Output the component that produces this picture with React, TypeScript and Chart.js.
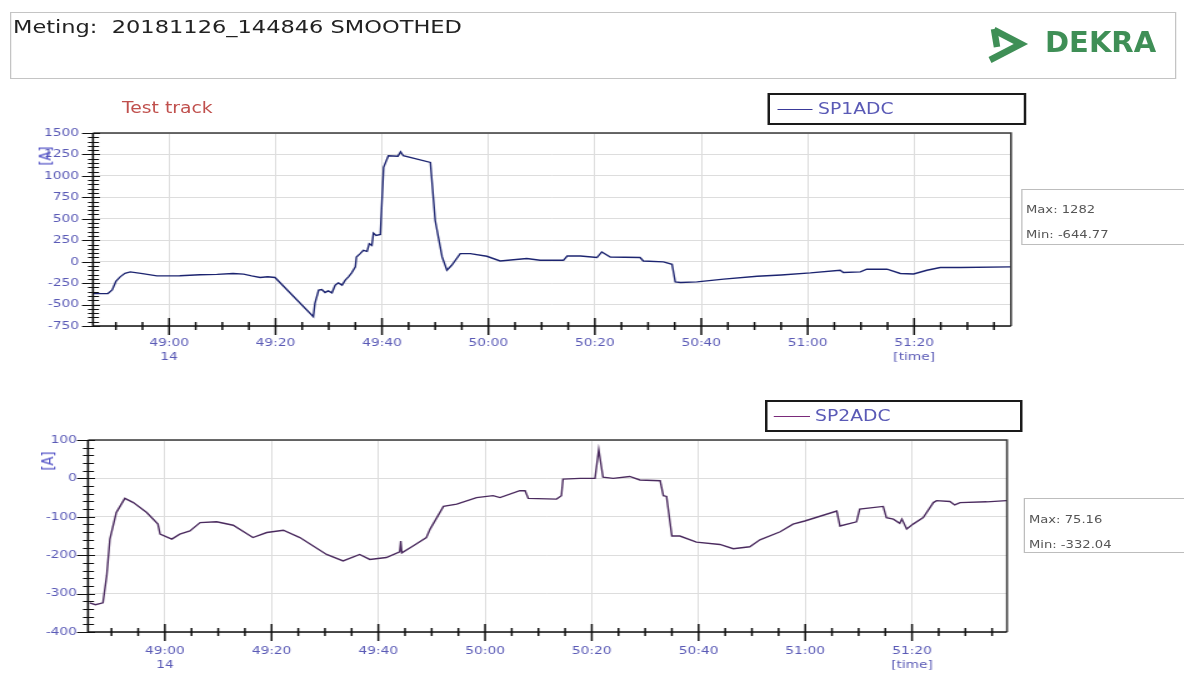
import React, { useEffect, useRef } from 'react';
import { Chart, registerables } from 'chart.js';

Chart.register(...registerables);

// ---------------- data ----------------
// time axis: seconds after 14:48:00
const xMajorValues = [60, 80, 100, 120, 140, 160, 180, 200];
const xMajorLabels = ['49:00', '49:20', '49:40', '50:00', '50:20', '50:40', '51:00', '51:20'];
const xSubLabels = ['14', '', '', '', '', '', '', '[time]'];

const sp1YTicks = [-750, -500, -250, 0, 250, 500, 750, 1000, 1250, 1500];
const sp2YTicks = [-400, -300, -200, -100, 0, 100];

const sp1Time = [
  45.7, 48.5, 49.3, 50.0, 50.8, 51.7, 52.7, 55.0, 57.7, 62.0, 65.8, 69.0, 72.0, 74.0, 75.5, 77.1, 78.5, 79.9,
  87.1, 87.4, 88.1, 88.7, 89.3, 89.9, 90.6, 91.2, 91.8, 92.5, 93.1, 93.7, 94.3, 95.0, 95.2, 95.9, 96.5, 97.2,
  97.6, 98.1, 98.4, 98.9, 99.7, 100.0, 100.3, 101.2, 103.0, 103.5, 104.0, 109.1, 110.0, 111.3, 112.2, 113.1,
  114.7, 116.6, 119.7, 122.2, 127.2, 129.7, 134.1, 134.8, 137.3, 140.4, 141.3, 142.9, 148.5, 149.1, 152.9,
  154.5, 155.1, 156.1, 159.2, 164.2, 170.5, 175.0, 180.5, 186.1, 186.7, 189.9, 191.1, 194.9, 197.4, 199.9,
  202.4, 204.9, 208.7, 218.1,
];
const sp1Value = [
  -372, -372, -330, -230, -177, -135, -119, -140, -166, -165, -152, -148, -138, -145, -165, -184, -176, -184,
  -641, -486, -332, -324, -359, -340, -363, -274, -247, -274, -216, -177, -131, -61, 55, 94, 132, 120,
  210, 190, 333, 306, 318, 712, 1099, 1234, 1230, 1282, 1235, 1157, 480, 55, -100, -42,
  94, 94, 63, 8, 36, 16, 16, 66, 66, 48, 113, 55, 48, 8, -3,
  -30, -235, -243, -235, -204, -170, -155, -131, -100, -127, -119, -88, -88, -138, -143,
  -100, -68, -68, -61,
];

const sp2Time = [
  45.9, 47.0, 48.4, 49.1, 49.7, 50.9, 52.5, 54.1, 56.6, 58.7, 59.1, 61.3, 62.8, 64.7, 66.6, 69.7, 72.8, 76.5,
  79.1, 82.2, 85.3, 87.8, 90.3, 93.4, 96.5, 98.4, 101.5, 104.0, 104.2, 104.4, 106.5, 109.0, 109.7, 112.2,
  114.7, 118.4, 121.5, 122.8, 126.5, 127.5, 128.1, 133.4, 134.3, 134.6, 137.8, 140.6, 141.3, 142.1, 144.0,
  147.1, 149.0, 152.8, 153.4, 154.0, 155.0, 156.5, 159.6, 164.0, 166.5, 169.6, 171.5, 175.3, 177.7, 179.9,
  185.9, 186.5, 189.6, 190.2, 194.6, 195.2, 196.5, 197.7, 198.1, 199.0, 200.2, 202.1, 204.0, 204.6, 207.1,
  208.0, 209.0, 214.0, 217.7,
];
const sp2Value = [
  -324, -329, -324, -254, -158, -89, -52, -63, -89, -119, -145, -158, -145, -137, -115, -113, -122, -154,
  -141, -135, -154, -176, -198, -215, -198, -211, -206, -191, -163, -194, -176, -154, -132, -73,
  -67, -50, -45, -50, -32, -32, -52, -54, -45, -2, 0, 0, 75, 3, 0,
  5, -4, -6, -45, -47, -150, -150, -166, -172, -183, -178, -160, -139, -119, -111,
  -85, -124, -113, -80, -73, -102, -106, -117, -106, -132, -119, -102, -63, -58, -60,
  -69, -63, -61, -58,
];

// ---------------- layout ----------------
const K = 1.25; // horizontal stretch of the whole picture
const X = (px: number) => px / K;
const LABEL = '#5a5ab6';
const GRID = '#dddddd';

const isMajor = (v: number) => Math.abs(v % 20) < 1e-6;

function xLabel(v: number) {
  const idx = xMajorValues.indexOf(v);
  if (idx < 0) return '';
  const sub = xSubLabels[idx];
  return sub ? [xMajorLabels[idx], sub] : xMajorLabels[idx];
}

const decorPlugin = {
  id: 'decor',
  afterDraw(chart: any, _args: any, opts: any) {
    const { ctx, chartArea: a } = chart;
    const xs = chart.scales.x;
    const ys = chart.scales.y;
    ctx.save();
    ctx.strokeStyle = '#3a3a3a';
    ctx.lineWidth = 1.6;
    ctx.beginPath();
    ctx.moveTo(a.left, a.top);
    ctx.lineTo(a.right, a.top);
    ctx.lineTo(a.right, a.bottom);
    ctx.stroke();
    ctx.strokeStyle = '#111';
    ctx.lineWidth = 1.6;
    ctx.beginPath();
    ctx.moveTo(a.left, a.top);
    ctx.lineTo(a.left, a.bottom);
    ctx.lineTo(a.right, a.bottom);
    ctx.stroke();
    // x ticks crossing the axis
    ctx.lineWidth = 1.5;
    ctx.beginPath();
    xs.ticks.forEach((t: any) => {
      const px = xs.getPixelForValue(t.value);
      const m = isMajor(t.value);
      ctx.moveTo(px, a.bottom - (m ? 8 : 4));
      ctx.lineTo(px, a.bottom + (m ? 9 : 4));
    });
    ctx.stroke();
    // y ticks crossing the axis
    ctx.lineWidth = 1.2;
    ctx.beginPath();
    const step = opts.yMinorStep;
    const n = Math.round((ys.max - ys.min) / step);
    for (let i = 0; i <= n; i++) {
      const v = ys.min + i * step;
      const py = Math.round(ys.getPixelForValue(v)) + 0.5;
      const m = opts.yMajor.includes(v);
      ctx.moveTo(a.left - (m ? 8.8 : 4), py);
      ctx.lineTo(a.left + (m ? 5.6 : 4.8), py);
    }
    ctx.stroke();
    ctx.restore();
  },
};

type ChartSpec = {
  label: string;
  times: number[];
  values: number[];
  color: string;
  yTicks: number[];
  yMinorStep: number;
  xMin: number;
  xMax: number;
  canvasW: number;
  canvasH: number;
  areaL: number;
  padTop: number;
  areaR: number;
  areaB: number;
  yLabelPad: number;
  xLabelPad: number;
};

function makeConfig(o: ChartSpec): any {
  const data = o.times.map((t, i) => ({ x: t, y: o.values[i] }));
  const cw = Math.round(X(o.canvasW));
  const yMin = o.yTicks[0];
  const yMax = o.yTicks[o.yTicks.length - 1];
  const font = { family: 'DejaVu Sans', size: 11, lineHeight: 1.3 };
  return {
    type: 'line',
    data: {
      datasets: [
        {
          label: o.label,
          data,
          borderColor: o.color,
          borderWidth: 1.4,
          pointRadius: 0,
          tension: 0,
          fill: false,
        },
      ],
    },
    plugins: [decorPlugin],
    options: {
      animation: false,
      responsive: false,
      events: [],
      layout: { padding: { left: 0, top: o.padTop, right: cw - X(o.areaR), bottom: 0 } },
      plugins: {
        legend: { display: false },
        tooltip: { enabled: false },
        decor: { yMinorStep: o.yMinorStep, yMajor: o.yTicks },
      },
      scales: {
        x: {
          type: 'linear',
          min: o.xMin,
          max: o.xMax,
          afterBuildTicks: (s: any) => {
            const arr: any[] = [];
            for (let v = Math.ceil(o.xMin / 5) * 5; v <= o.xMax; v += 5) arr.push({ value: v });
            s.ticks = arr;
          },
          afterFit: (s: any) => {
            s.height = o.canvasH - o.areaB;
            s.paddingLeft = 0;
            s.paddingRight = 0;
            s.paddingTop = 0;
            s.paddingBottom = 0;
          },
          grid: {
            drawTicks: false,
            lineWidth: 1,
            color: (c: any) => (c.tick && isMajor(c.tick.value) ? GRID : 'rgba(0,0,0,0)'),
          },
          border: { display: false },
          ticks: {
            autoSkip: false,
            maxRotation: 0,
            minRotation: 0,
            padding: o.xLabelPad,
            color: LABEL,
            font,
            callback: (v: any) => xLabel(v),
          },
        },
        y: {
          type: 'linear',
          min: yMin,
          max: yMax,
          afterBuildTicks: (s: any) => {
            s.ticks = o.yTicks.map((v) => ({ value: v }));
          },
          afterFit: (s: any) => {
            s.width = X(o.areaL);
            s.paddingLeft = 0;
            s.paddingRight = 0;
            s.paddingTop = 0;
            s.paddingBottom = 0;
          },
          grid: { drawTicks: false, lineWidth: 1, color: GRID },
          border: { display: false },
          ticks: {
            autoSkip: false,
            padding: o.yLabelPad,
            color: LABEL,
            font,
            callback: (v: any) => String(v),
          },
        },
      },
    },
  };
}

const topSpec: ChartSpec = {
  label: 'SP1ADC',
  times: sp1Time,
  values: sp1Value,
  color: '#1c2470',
  yTicks: sp1YTicks,
  yMinorStep: 50,
  xMin: 45.7,
  xMax: 218.2,
  canvasW: 1021,
  canvasH: 260,
  areaL: 93,
  padTop: 13,
  areaR: 1011,
  areaB: 206,
  yLabelPad: X(14),
  xLabelPad: 10,
};

const bottomSpec: ChartSpec = {
  label: 'SP2ADC',
  times: sp2Time,
  values: sp2Value,
  color: '#4a2a5e',
  yTicks: sp2YTicks,
  yMinorStep: 20,
  xMin: 45.6,
  xMax: 217.8,
  canvasW: 1017,
  canvasH: 249,
  areaL: 88,
  padTop: 10,
  areaR: 1007,
  areaB: 202,
  yLabelPad: X(11),
  xLabelPad: 12,
};

function LineChart({ spec, top }: { spec: ChartSpec; top: number }) {
  const ref = useRef<HTMLCanvasElement | null>(null);
  useEffect(() => {
    if (!ref.current) return;
    const chart = new Chart(ref.current, makeConfig(spec));
    return () => chart.destroy();
  }, [spec]);
  return (
    <canvas
      ref={ref}
      width={Math.round(X(spec.canvasW))}
      height={spec.canvasH}
      style={{ position: 'absolute', left: 0, top, width: Math.round(X(spec.canvasW)), height: spec.canvasH }}
    />
  );
}

function Txt(props: { left: number; top: number; size: number; color: string; text: string; weight?: number }) {
  return (
    <div
      style={{
        position: 'absolute',
        left: X(props.left),
        top: props.top,
        fontSize: props.size,
        lineHeight: 1,
        color: props.color,
        whiteSpace: 'pre',
        fontWeight: props.weight || 400,
      }}
    >
      {props.text}
    </div>
  );
}

function Box(props: { left: number; top: number; w: number; h: number; border: string }) {
  return (
    <div
      style={{
        position: 'absolute',
        left: X(props.left),
        top: props.top,
        width: X(props.w),
        height: props.h,
        border: props.border,
        boxSizing: 'border-box',
      }}
    />
  );
}

function Legend(props: { left: number; top: number; lineColor: string; text: string }) {
  const { left, top } = props;
  return (
    <>
      <Box left={left} top={top} w={258} h={32} border="2px solid #1a1a1a" />
      <div
        style={{
          position: 'absolute',
          left: X(left + 9),
          top: top + 16,
          width: X(36),
          height: 1,
          background: props.lineColor,
        }}
      />
      <Txt left={left + 50} top={top + 9} size={15} color={LABEL} text={props.text} />
    </>
  );
}

function AxisUnit(props: { cx: number; cy: number }) {
  return (
    <div
      style={{
        position: 'absolute',
        left: X(props.cx),
        top: props.cy,
        transform: 'translate(-50%, -50%) rotate(-90deg)',
        fontSize: 13,
        lineHeight: 1,
        color: '#4b4bc4',
        whiteSpace: 'pre',
      }}
    >
      [A]
    </div>
  );
}

export default function App() {
  return (
    <div
      style={{
        position: 'absolute',
        left: 0,
        top: 0,
        width: 1184,
        height: 679,
        overflow: 'hidden',
        background: '#ffffff',
      }}
    >
      <div
        style={{
          position: 'absolute',
          left: 0,
          top: 0,
          width: X(1184),
          height: 679,
          transform: `scaleX(${K})`,
          transformOrigin: '0 0',
          fontFamily: '"DejaVu Sans", sans-serif',
        }}
      >
        {/* header */}
        <Box left={10} top={12} w={1166} h={67} border="1px solid #c4c4c4" />
        <Txt left={13} top={18} size={18} color="#222" text="Meting:  20181126_144846 SMOOTHED" />

        {/* top chart */}
        <Txt left={122} top={101} size={15} color="#c0504d" text="Test track" />
        <Legend left={768} top={93} lineColor="#3a3a9a" text="SP1ADC" />
        <LineChart spec={topSpec} top={120} />
        <AxisUnit cx={45} cy={156} />
        <Box left={1021} top={189} w={175} h={56} border="1px solid #bdbdbd" />
        <Txt left={1026} top={204} size={10.5} color="#555" text="Max: 1282" />
        <Txt left={1026} top={229} size={10.5} color="#555" text="Min: -644.77" />

        {/* bottom chart */}
        <Legend left={765} top={400} lineColor="#7a2a7a" text="SP2ADC" />
        <LineChart spec={bottomSpec} top={430} />
        <AxisUnit cx={47} cy={461} />
        <Box left={1024} top={498} w={175} h={55} border="1px solid #bdbdbd" />
        <Txt left={1029} top={514} size={10.5} color="#555" text="Max: 75.16" />
        <Txt left={1029} top={539} size={10.5} color="#555" text="Min: -332.04" />
      </div>

      {/* DEKRA logo */}
      <svg
        width={44}
        height={44}
        style={{ position: 'absolute', left: 985, top: 24 }}
        viewBox="0 0 44 44"
      >
        <polyline
          points="9,6 36,20 5,36"
          fill="none"
          stroke="#3f8f56"
          strokeWidth={6.5}
          strokeLinejoin="miter"
        />
        <polyline points="9,5 12,23" fill="none" stroke="#3f8f56" strokeWidth={6.5} />
      </svg>
      <div
        style={{
          position: 'absolute',
          left: 1045,
          top: 28,
          fontFamily: '"DejaVu Sans", sans-serif',
          fontWeight: 700,
          fontSize: 29,
          lineHeight: 1,
          color: '#3f8f56',
          whiteSpace: 'pre',
        }}
      >
        DEKRA
      </div>
    </div>
  );
}
